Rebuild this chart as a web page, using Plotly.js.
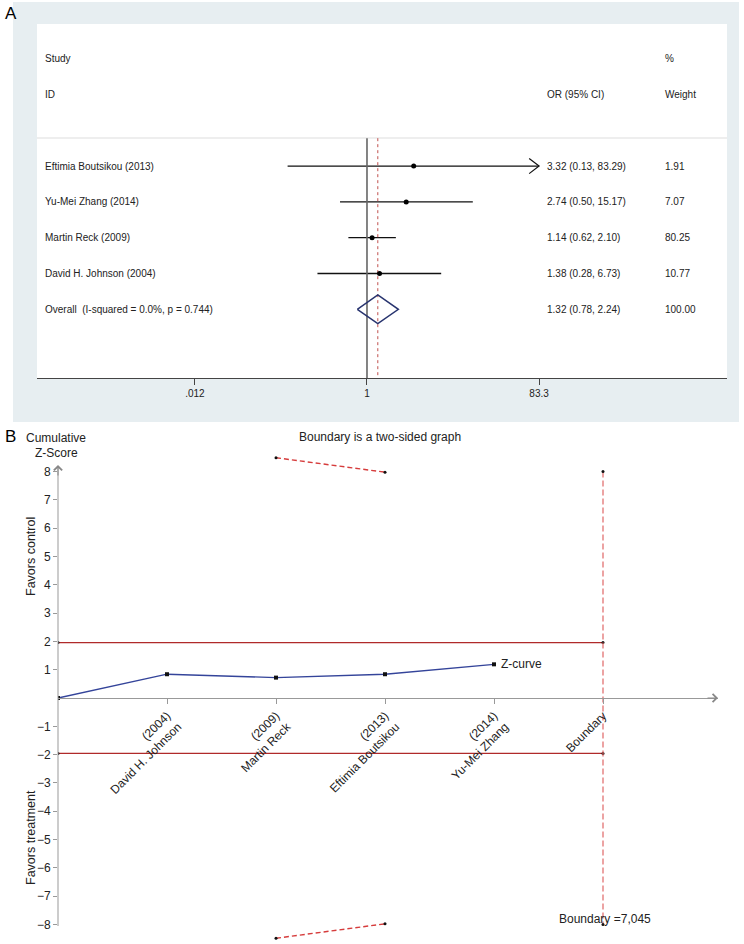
<!DOCTYPE html>
<html>
<head>
<meta charset="utf-8">
<script src="https://cdn.plot.ly/plotly-3.0.1.min.js"></script>
<style>html,body{margin:0;padding:0;background:#fff;}#chart{width:744px;height:944px;}</style>
</head>
<body>
<div id="chart"></div>
<script>
// ---------- Panel A data (forest plot) ----------
const studies = ['Eftimia Boutsikou (2013)', 'Yu-Mei Zhang (2014)', 'Martin Reck (2009)', 'David H. Johnson (2004)'];
const orEst = [3.32, 2.74, 1.14, 1.38];
const orLo = [0.13, 0.50, 0.62, 0.28];
const orHi = [83.29, 15.17, 2.10, 6.73];
const weights = ['1.91', '7.07', '80.25', '10.77'];
const overallLabel = 'Overall  (I-squared = 0.0%, p = 0.744)';
const overallEst = 1.32;
const overallLo = 0.78;
const overallHi = 2.24;
const overallWeight = '100.00';
const forestTickVals = [0.012, 1, 83.3];
const forestTickText = ['.012', '1', '83.3'];

// ---------- Panel B data (trial sequential analysis) ----------
const tsaTickLabels = ['(2004)<br>David H. Johnson', '(2009)<br>Martin Reck', '(2013)<br>Eftimia Boutsikou', '(2014)<br>Yu-Mei Zhang', 'Boundary'];
const zCurveX = [0, 1, 2, 3, 4];
const zCurve = [0, 0.84, 0.72, 0.84, 1.19];
const conventionalZ = 1.96;
const tsaBoundaryX = [2, 3];
const tsaBoundaryZ = [8.49, 7.98];
const risX = 5;
const risZ = 8;
const risLabel = 'Boundary =7,045';
const zTicks = [-8, -7, -6, -5, -4, -3, -2, -1, 1, 2, 3, 4, 5, 6, 7, 8];

// ---------- helpers ----------
const W = 744, H = 944;
const px = x => x / W;
const py = y => 1 - y / H;
const FA = 'Liberation Sans, Arial, sans-serif';
const rows = studies.map((_, i) => i + 1);
const overallRow = studies.length + 1;
const sepRow = 0.22, axisRow = 6.92;

const traces = [];
// CI lines
const ciX = [], ciY = [];
studies.forEach((s, i) => { ciX.push(orLo[i], orHi[i], null); ciY.push(rows[i], rows[i], null); });
traces.push({x: ciX, y: ciY, xaxis: 'x', yaxis: 'y', mode: 'lines', line: {color: '#111', width: 1.3}, hoverinfo: 'skip'});
// open chevron at the truncated upper CI of the first study
const chevF = 1.29, chevH = 0.21;
traces.push({x: [orHi[0] / chevF, orHi[0], orHi[0] / chevF], y: [rows[0] - chevH, rows[0], rows[0] + chevH], xaxis: 'x', yaxis: 'y',
  mode: 'lines', line: {color: '#111', width: 1.2}, hoverinfo: 'skip'});
// null line at 1
traces.push({x: [1, 1], y: [sepRow, axisRow], xaxis: 'x', yaxis: 'y', mode: 'lines', line: {color: '#666', width: 1.6}, hoverinfo: 'skip'});
// overall dashed line
traces.push({x: [overallEst, overallEst], y: [sepRow, axisRow], xaxis: 'x', yaxis: 'y', mode: 'lines', line: {color: '#c0504d', width: 1, dash: '3px,3px'}, hoverinfo: 'skip'});
// point estimates
traces.push({x: orEst, y: rows, xaxis: 'x', yaxis: 'y', mode: 'markers', marker: {color: '#000', size: 5}, hoverinfo: 'skip'});
// diamond
const dh = 0.4;
traces.push({x: [overallLo, overallEst, overallHi, overallEst, overallLo], y: [overallRow, overallRow - dh, overallRow, overallRow + dh, overallRow],
  xaxis: 'x', yaxis: 'y', mode: 'lines', line: {color: '#28346f', width: 1.5}, hoverinfo: 'skip'});

// Panel B traces
traces.push({x: [0, risX], y: [conventionalZ, conventionalZ], xaxis: 'x2', yaxis: 'y2', mode: 'lines+markers',
  line: {color: '#b02a2a', width: 1.3}, marker: {color: '#111', size: 3}, hoverinfo: 'skip'});
traces.push({x: [0, risX], y: [-conventionalZ, -conventionalZ], xaxis: 'x2', yaxis: 'y2', mode: 'lines+markers',
  line: {color: '#b02a2a', width: 1.3}, marker: {color: '#111', size: 3}, hoverinfo: 'skip'});
traces.push({x: tsaBoundaryX, y: tsaBoundaryZ, xaxis: 'x2', yaxis: 'y2', mode: 'lines+markers',
  line: {color: '#d63c3c', width: 1.4, dash: '5px,3px'}, marker: {color: '#111', size: 3}, hoverinfo: 'skip'});
traces.push({x: tsaBoundaryX, y: tsaBoundaryZ.map(v => -v), xaxis: 'x2', yaxis: 'y2', mode: 'lines+markers',
  line: {color: '#d63c3c', width: 1.4, dash: '5px,3px'}, marker: {color: '#111', size: 3}, hoverinfo: 'skip'});
traces.push({x: [risX, risX], y: [risZ, -risZ], xaxis: 'x2', yaxis: 'y2', mode: 'lines+markers',
  line: {color: '#e06666', width: 1.2, dash: '6px,3px'}, marker: {color: '#111', size: 3}, hoverinfo: 'skip'});
traces.push({x: zCurveX, y: zCurve, xaxis: 'x2', yaxis: 'y2', mode: 'lines+markers',
  line: {color: '#34449a', width: 1.3}, marker: {color: '#111', size: 4, symbol: 'square'}, hoverinfo: 'skip'});

const ann = [];
const txtA = (text, x, y, opts) => Object.assign({text, x, y, xref: 'paper', yref: 'y', xanchor: 'left', yanchor: 'middle', showarrow: false,
  font: {family: FA, size: 10, color: '#222'}}, opts || {});
ann.push(txtA('Study', px(43), -2));
ann.push(txtA('%', px(663), -2));
ann.push(txtA('ID', px(43), -1));
ann.push(txtA('OR (95% CI)', px(545), -1));
ann.push(txtA('Weight', px(663), -1));
studies.forEach((s, i) => {
  ann.push(txtA(s, px(43), rows[i]));
  ann.push(txtA(`${orEst[i].toFixed(2)} (${orLo[i].toFixed(2)}, ${orHi[i].toFixed(2)})`, px(545), rows[i]));
  ann.push(txtA(weights[i], px(663), rows[i]));
});
ann.push(txtA(overallLabel, px(43), overallRow));
ann.push(txtA(`${overallEst.toFixed(2)} (${overallLo.toFixed(2)}, ${overallHi.toFixed(2)})`, px(545), overallRow));
ann.push(txtA(overallWeight, px(663), overallRow));
ann.push({text: 'A', x: px(3), y: py(13), xref: 'paper', yref: 'paper', xanchor: 'left', yanchor: 'middle', showarrow: false, font: {family: FA, size: 17, color: '#000'}});

// Panel B annotations
const txtP = (text, x, y, opts) => Object.assign({text, x, y, xref: 'paper', yref: 'paper', xanchor: 'center', yanchor: 'middle', showarrow: false,
  font: {family: FA, size: 12, color: '#222'}}, opts || {});
ann.push(txtP('B', px(3), py(437), {xanchor: 'left', font: {family: FA, size: 17, color: '#000'}}));
ann.push(txtP('Cumulative', px(56), py(438)));
ann.push(txtP('Z-Score', px(56), py(453)));
ann.push(txtP('Boundary is a two-sided graph', px(380), py(437)));
ann.push(txtP('Favors control', px(31), py(557), {textangle: -90, font: {family: FA, size: 12.5, color: '#222'}}));
ann.push(txtP('Favors treatment', px(31), py(838), {textangle: -90, font: {family: FA, size: 12.5, color: '#222'}}));
ann.push({text: 'Z-curve', x: zCurveX[zCurveX.length - 1], y: zCurve[zCurve.length - 1], xref: 'x2', yref: 'y2', xanchor: 'left', yanchor: 'middle',
  xshift: 5, showarrow: false, font: {family: FA, size: 12, color: '#222'}});
ann.push({text: risLabel, x: 4.58, y: -7.8, xref: 'x2', yref: 'y2', xanchor: 'left', yanchor: 'middle', showarrow: false,
  font: {family: FA, size: 12, color: '#222'}});
// axis arrows
ann.push({text: '', x: px(718), y: py(698), xref: 'paper', yref: 'paper', ax: -12, ay: 0, showarrow: true, arrowhead: 4, arrowsize: 1.6, arrowwidth: 1, arrowcolor: '#888', standoff: 0});
ann.push({text: '', x: px(58), y: py(465), xref: 'paper', yref: 'paper', ax: 0, ay: 12, showarrow: true, arrowhead: 4, arrowsize: 1.6, arrowwidth: 1, arrowcolor: '#888', standoff: 0});

const shapes = [
  {type: 'rect', xref: 'paper', yref: 'paper', x0: px(13), x1: px(739), y0: py(422), y1: py(2), fillcolor: '#e7eef1', line: {width: 0}, layer: 'below'},
  {type: 'rect', xref: 'paper', yref: 'paper', x0: px(37), x1: px(727), y0: py(378), y1: py(24), fillcolor: '#ffffff', line: {width: 0}, layer: 'below'},
  {type: 'line', xref: 'paper', yref: 'paper', x0: px(37), x1: px(727), y0: py(138), y1: py(138), line: {color: '#dddddd', width: 1}, layer: 'below'},
  {type: 'line', xref: 'paper', yref: 'paper', x0: px(58), x1: px(58), y0: py(926), y1: py(466), line: {color: '#999', width: 1}}
];

const zPerUnit = 28.3, zZeroPx = 698, zPad = 8.6;
const layout = {
  width: W, height: H, margin: {l: 0, r: 0, t: 0, b: 0}, showlegend: false,
  paper_bgcolor: '#fff', plot_bgcolor: 'rgba(0,0,0,0)',
  xaxis: {domain: [px(37), px(727)], type: 'log', range: [-3.683, 4.018], anchor: 'y', showline: true, linecolor: '#444', linewidth: 1,
    ticks: 'outside', ticklen: 6, tickcolor: '#444', tickvals: forestTickVals, ticktext: forestTickText,
    tickfont: {family: FA, size: 10, color: '#222'}, showgrid: false, zeroline: false, fixedrange: true},
  yaxis: {domain: [py(378), py(24)], range: [axisRow, -2.97], anchor: 'x', visible: false, fixedrange: true},
  xaxis2: {domain: [px(58), px(718)], range: [0, 660 / 109], anchor: 'free', position: py(zZeroPx), showline: true, linecolor: '#999', linewidth: 1,
    ticks: 'outside', ticklen: 5, tickcolor: '#999', tickvals: [1, 2, 3, 4, 5], ticktext: tsaTickLabels, tickangle: -45,
    tickfont: {family: FA, size: 12, color: '#222'}, showgrid: false, zeroline: false, fixedrange: true},
  yaxis2: {domain: [py(zZeroPx + zPad * zPerUnit), py(zZeroPx - zPad * zPerUnit)], range: [-zPad, zPad], anchor: 'x2', showline: false,
    ticks: 'outside', ticklen: 4, tickcolor: '#999', tickvals: zTicks, tickfont: {family: FA, size: 12, color: '#222'},
    showgrid: false, zeroline: false, fixedrange: true},
  annotations: ann, shapes: shapes
};
Plotly.newPlot('chart', traces, layout, {displayModeBar: false, staticPlot: true});
</script>
</body>
</html>
